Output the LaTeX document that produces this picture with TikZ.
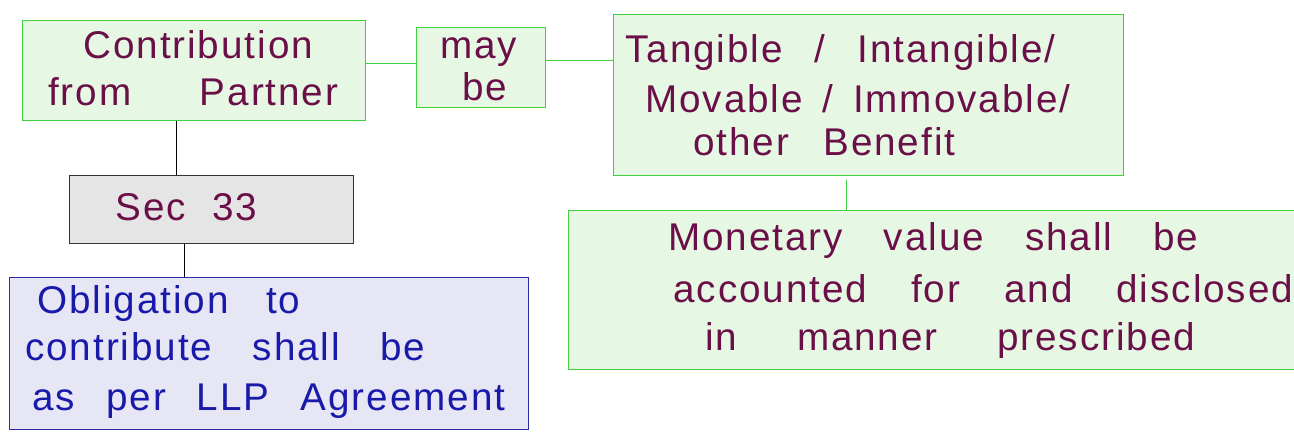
\documentclass[tikz,border=0pt]{standalone}
\usepackage{fontspec}
\setmainfont[LetterSpace=5]{Liberation Sans}
\definecolor{gfill}{HTML}{E6F8E4}
\definecolor{gline}{HTML}{3FCF3F}
\definecolor{grayfill}{HTML}{E5E5E5}
\definecolor{grayline}{HTML}{333333}
\definecolor{bfill}{HTML}{E6E6F5}
\definecolor{bline}{HTML}{2B2BA6}
\definecolor{ptext}{HTML}{6B0F48}
\definecolor{btext}{HTML}{1A1AAA}
\newcommand\fitline[2]{\makebox[#1][s]{#2}}
\begin{document}
\begin{tikzpicture}[x=0.02cm,y=-0.02cm,
  box/.style={rectangle, inner sep=0pt, anchor=north west, line width=0.6pt},
  gbox/.style={box, draw=gline, fill=gfill},
  sbox/.style={box, draw=grayline, fill=grayfill},
  bbox/.style={box, draw=bline, fill=bfill},
  txt/.style={inner sep=0pt, anchor=base west, font=\fontsize{22}{26}\selectfont, text=ptext},
  btxt/.style={txt, text=btext},
  gconn/.style={draw=gline, line width=0.6pt},
  kconn/.style={draw=black, line width=0.5pt}]
\useasboundingbox (0,0) rectangle (1294,433);
% boxes
\node[gbox, minimum width=6.86cm, minimum height=2.0cm] (A) at (22,20) {};
\node[gbox, minimum width=2.58cm, minimum height=1.6cm] (B) at (416,27) {};
\node[gbox, minimum width=10.2cm, minimum height=3.22cm] (C) at (613,14) {};
\node[gbox, minimum width=14.64cm, minimum height=3.18cm] (D) at (568,210) {};
\node[sbox, minimum width=5.68cm, minimum height=1.36cm] (E) at (69,175) {};
\node[bbox, minimum width=10.38cm, minimum height=3.04cm] (F) at (9,277) {};
% connectors
\draw[gconn] ([yshift=0.14cm]A.east) -- ([yshift=0.14cm]A.east -| B.west);
\draw[gconn] ([yshift=0.14cm]B.east) -- ([yshift=0.14cm]B.east -| C.west);
\draw[kconn] ([xshift=-0.35cm]A.south) -- ([xshift=-0.35cm]A.south |- E.north);
\draw[kconn] ([xshift=-0.54cm]E.south) -- ([xshift=-0.54cm]E.south |- F.north);
\draw[gconn] ([xshift=-0.44cm,yshift=-0.08cm]C.south) -- ([xshift=-0.44cm]C.south |- D.north);
% texts
\node[txt] (A1) at (83,58) {Contribution};
\node[txt] (A2) at (48,105) {\fitline{5.8cm}{from Partner}};
\node[txt] (B1) at (440,58) {may};
\node[txt] (B2) at (462,100) {be};
\node[txt] (C1) at (625,62) {\fitline{8.6cm}{Tangible / Intangible/}};
\node[txt] (C2) at (645,112) {\fitline{8.5cm}{Movable / Immovable/}};
\node[txt] (C3) at (693,155) {\fitline{5.24cm}{other Benefit}};
\node[txt] (D1) at (668,250) {\fitline{10.6cm}{Monetary value shall be}};
\node[txt] (D2) at (673,302) {\fitline{12.4cm}{accounted for and disclosed}};
\node[txt] (D3) at (705,350) {\fitline{9.8cm}{in manner prescribed}};
\node[txt] (E1) at (115,220) {\fitline{2.84cm}{Sec 33}};
\node[btxt] (F1) at (37,313) {\fitline{5.26cm}{Obligation to}};
\node[btxt] (F2) at (25,360) {\fitline{8.0cm}{contribute shall be}};
\node[btxt] (F3) at (32,410) {\fitline{9.46cm}{as per LLP Agreement}};
\end{tikzpicture}
\end{document}
